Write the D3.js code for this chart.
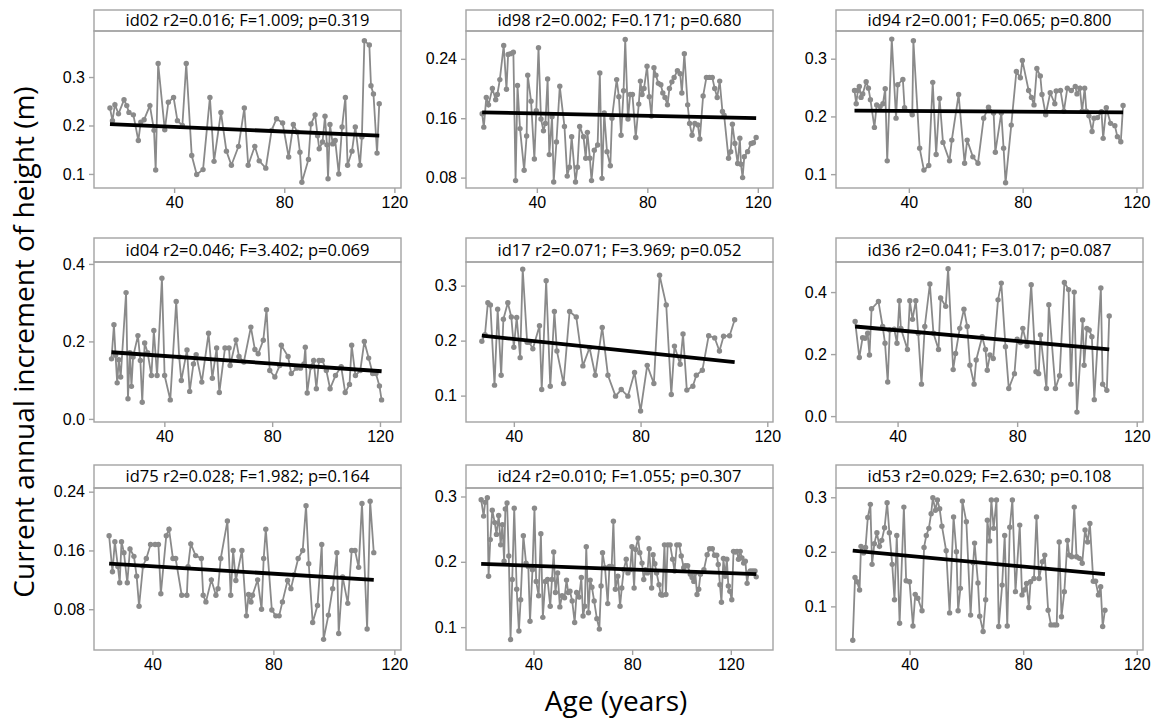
<!DOCTYPE html>
<html>
<head>
<meta charset="utf-8">
<script src="https://cdn.jsdelivr.net/npm/d3@7"></script>
<style>
  body { margin: 0; background: #fff; }
  svg { display: block; font-family: "Open Sans", "Noto Sans", sans-serif; }
</style>
</head>
<body>
<div id="chart"></div>
<script>
// ---- data: age (years) and current annual increment (m) ----
const ageId02 = [16.7,17.6,18.5,19.8,21.8,22.8,23.6,25.2,27.0,27.9,29.1,31.2,32.7,33.3,34.2,36.6,37.9,39.8,41.2,43.0,44.4,46.4,48.2,50.5,53.0,54.5,57.0,59.0,60.8,63.4,65.5,66.9,69.3,70.9,73.3,75.4,77.2,79.4,81.6,83.3,84.8,85.7,86.4,88.8,89.7,91.2,92.1,92.7,93.9,94.8,95.5,95.9,96.6,97.6,98.5,99.8,101.0,102.2,103.0,104.6,105.8,107.5,108.2,109.1,110.9,111.5,112.4,113.7,114.5];
const caiId02 = [0.236,0.21,0.243,0.224,0.253,0.241,0.227,0.222,0.169,0.207,0.212,0.241,0.19,0.108,0.328,0.191,0.248,0.258,0.21,0.2,0.328,0.138,0.099,0.109,0.258,0.126,0.227,0.147,0.118,0.157,0.236,0.118,0.157,0.127,0.112,0.19,0.214,0.205,0.135,0.202,0.186,0.145,0.083,0.13,0.203,0.222,0.179,0.152,0.166,0.219,0.16,0.09,0.202,0.162,0.169,0.1,0.197,0.258,0.118,0.147,0.197,0.118,0.176,0.375,0.366,0.282,0.265,0.143,0.245];

const ageId98 = [20.2,20.8,21.7,22.5,23.9,25.1,25.7,26.6,28.0,29.0,29.6,30.5,31.5,32.3,33.0,33.9,35.4,36.3,36.7,37.9,39.1,39.8,40.6,41.5,42.4,43.1,43.9,44.5,45.5,46.1,47.1,48.3,50.0,51.0,51.8,52.6,54.0,54.7,55.5,56.9,57.7,58.3,59.2,59.8,60.8,62.0,62.8,63.6,64.4,65.4,66.6,67.2,68.9,69.7,70.5,71.4,72.0,73.0,73.8,74.6,75.8,76.9,77.5,78.1,78.8,79.9,80.7,81.5,82.4,83.1,84.0,84.9,85.6,86.4,87.3,88.0,88.9,89.7,90.9,91.9,92.5,93.4,94.6,95.3,96.2,97.2,98.3,99.0,100.2,101.4,102.5,103.5,104.4,105.3,106.2,107.2,107.8,109.4,110.2,110.8,111.7,112.7,113.5,113.9,114.5,115.1,116.3,117.6,118.4,119.4];
const caiId98 = [0.166,0.148,0.188,0.178,0.2,0.185,0.192,0.212,0.258,0.199,0.246,0.247,0.249,0.076,0.204,0.146,0.09,0.136,0.218,0.183,0.105,0.17,0.255,0.159,0.143,0.153,0.213,0.111,0.162,0.074,0.128,0.203,0.149,0.082,0.094,0.135,0.074,0.094,0.149,0.135,0.106,0.141,0.106,0.076,0.117,0.124,0.221,0.079,0.167,0.115,0.096,0.16,0.212,0.189,0.137,0.197,0.266,0.159,0.192,0.192,0.134,0.179,0.21,0.192,0.2,0.23,0.189,0.163,0.228,0.218,0.207,0.205,0.194,0.188,0.178,0.2,0.209,0.215,0.224,0.22,0.194,0.247,0.178,0.153,0.137,0.153,0.151,0.132,0.19,0.215,0.215,0.215,0.2,0.188,0.21,0.169,0.164,0.106,0.115,0.152,0.126,0.099,0.133,0.098,0.08,0.108,0.115,0.126,0.127,0.134];

const ageId94 = [20.9,21.5,22.1,22.6,23.2,23.8,25.0,25.8,26.5,27.9,28.7,29.9,30.9,31.7,32.4,34.0,35.5,36.1,37.9,38.5,41.2,41.6,43.8,45.3,47.0,48.4,49.6,50.8,52.0,54.3,55.1,57.5,59.6,60.5,62.5,64.3,66.3,68.0,69.8,70.4,72.5,73.3,74.0,76.0,77.8,79.2,79.9,82.1,83.1,84.0,85.0,86.2,86.8,88.1,89.7,91.3,91.8,93.3,94.5,95.7,97.1,98.5,99.1,100.1,100.9,101.8,102.4,103.3,104.4,105.1,106.3,107.7,108.3,109.4,110.9,112.4,113.3,114.5,115.3];
const caiId94 = [0.245,0.222,0.245,0.252,0.233,0.239,0.26,0.249,0.229,0.181,0.22,0.217,0.222,0.248,0.123,0.334,0.197,0.255,0.264,0.215,0.203,0.331,0.145,0.107,0.115,0.259,0.134,0.231,0.155,0.123,0.159,0.238,0.119,0.159,0.13,0.119,0.197,0.216,0.206,0.138,0.206,0.145,0.085,0.185,0.278,0.267,0.297,0.245,0.233,0.22,0.283,0.27,0.238,0.203,0.241,0.222,0.244,0.245,0.209,0.249,0.245,0.252,0.239,0.249,0.209,0.249,0.209,0.201,0.174,0.197,0.198,0.208,0.162,0.215,0.188,0.184,0.165,0.156,0.219];

const ageId04 = [20.4,21.3,21.9,22.5,23.1,23.8,25.8,26.5,27.2,27.8,28.4,30.2,31.1,31.8,32.7,33.8,35.2,36.1,37.3,39.1,40.1,42.2,44.4,45.5,46.3,48.4,49.4,50.8,51.8,53.9,56.4,57.8,59.4,60.4,62.5,64.0,64.4,66.6,67.7,69.5,72.1,73.6,74.8,76.7,77.9,79.1,81.0,82.8,83.4,85.9,87.1,89.0,90.5,91.8,92.3,93.0,94.3,95.4,96.4,97.4,98.6,100.1,101.5,103.5,105.6,107.1,108.7,109.5,110.9,112.7,114.2,115.8,117.3,118.5,119.8,120.6];
const caiId04 = [0.155,0.243,0.164,0.093,0.153,0.108,0.326,0.052,0.171,0.084,0.16,0.215,0.151,0.043,0.196,0.171,0.112,0.228,0.112,0.363,0.112,0.049,0.303,0.16,0.099,0.178,0.071,0.142,0.166,0.095,0.221,0.105,0.183,0.068,0.183,0.183,0.138,0.204,0.161,0.147,0.237,0.179,0.168,0.203,0.282,0.125,0.108,0.138,0.19,0.161,0.117,0.131,0.131,0.142,0.185,0.067,0.134,0.151,0.078,0.151,0.151,0.125,0.078,0.112,0.135,0.068,0.089,0.19,0.112,0.125,0.2,0.157,0.117,0.117,0.085,0.049];

const ageId17 = [29.9,30.9,31.8,32.6,33.9,34.9,36.0,36.7,38.1,39.2,40.0,40.9,42.0,42.8,44.2,44.9,46.0,48.1,48.8,50.2,51.5,52.8,53.6,55.7,57.6,59.7,61.8,63.9,65.7,67.9,69.7,72.1,73.9,76.0,78.1,80.0,82.1,84.2,86.0,88.1,89.7,90.7,92.5,93.4,94.6,96.5,97.6,99.5,101.5,103.4,104.9,106.2,108.1,109.7];
const caiId17 = [0.199,0.211,0.269,0.265,0.119,0.257,0.137,0.239,0.269,0.243,0.188,0.242,0.169,0.33,0.197,0.197,0.185,0.227,0.111,0.309,0.117,0.253,0.181,0.122,0.253,0.243,0.154,0.187,0.137,0.224,0.137,0.099,0.111,0.099,0.142,0.072,0.155,0.122,0.319,0.265,0.102,0.19,0.157,0.212,0.11,0.117,0.137,0.146,0.209,0.205,0.181,0.208,0.209,0.238];

const ageId36 = [25.8,27.2,28.3,29.1,30.0,30.6,31.3,33.6,35.0,35.8,36.7,37.4,38.9,39.8,40.6,41.1,43.3,44.1,45.0,46.1,46.9,48.0,49.1,50.8,52.0,53.7,54.4,56.1,56.9,58.6,59.4,60.8,62.2,63.3,64.2,65.6,66.3,68.3,69.4,70.0,70.9,72.0,73.6,74.7,76.1,77.2,79.1,80.0,81.1,81.9,83.3,84.7,86.3,87.2,87.8,89.8,90.6,92.8,94.2,95.8,97.2,98.0,99.1,100.0,101.9,102.4,103.3,104.1,105.0,105.8,108.0,108.6,110.0,110.8];
const caiId36 = [0.305,0.189,0.253,0.251,0.267,0.197,0.346,0.37,0.289,0.235,0.11,0.278,0.28,0.235,0.372,0.283,0.215,0.372,0.312,0.372,0.267,0.103,0.289,0.426,0.267,0.215,0.381,0.354,0.475,0.15,0.202,0.283,0.345,0.289,0.164,0.103,0.181,0.256,0.215,0.148,0.197,0.186,0.375,0.429,0.224,0.089,0.137,0.248,0.237,0.283,0.226,0.424,0.143,0.137,0.262,0.089,0.359,0.089,0.13,0.431,0.408,0.103,0.4,0.013,0.31,0.164,0.283,0.278,0.256,0.053,0.413,0.103,0.083,0.323];

const ageId75 = [25.7,26.8,27.6,28.6,29.2,29.8,30.6,31.7,32.6,33.9,34.8,35.6,36.9,38.0,39.4,40.9,42.0,42.8,44.6,45.5,46.8,47.7,49.7,51.4,51.8,52.7,54.3,56.2,56.8,57.7,59.5,61.0,61.7,62.6,64.8,65.9,66.7,67.6,69.6,71.1,71.8,72.6,73.1,74.8,76.1,76.8,77.5,79.5,80.8,81.9,83.0,84.7,85.8,86.9,88.2,89.7,90.8,91.7,93.0,94.6,96.0,96.6,98.2,99.6,101.0,101.6,102.9,104.6,105.9,107.0,108.2,109.3,111.0,112.0,113.2];
const caiId75 = [0.18,0.131,0.172,0.138,0.116,0.172,0.157,0.116,0.162,0.152,0.125,0.084,0.139,0.149,0.168,0.168,0.168,0.101,0.18,0.189,0.149,0.149,0.099,0.099,0.138,0.169,0.153,0.149,0.099,0.09,0.12,0.099,0.108,0.149,0.2,0.099,0.16,0.119,0.16,0.071,0.1,0.09,0.099,0.12,0.08,0.149,0.189,0.079,0.071,0.071,0.09,0.119,0.108,0.127,0.149,0.16,0.221,0.142,0.062,0.085,0.168,0.039,0.072,0.108,0.157,0.047,0.124,0.088,0.16,0.16,0.137,0.224,0.053,0.227,0.157];

const ageId24 = [18.8,19.8,20.4,21.3,21.8,22.5,23.3,24.3,25.0,25.9,26.7,27.4,28.1,28.6,29.3,30.0,30.7,31.4,32.2,33.2,34.1,34.8,35.9,37.0,37.9,38.6,39.6,40.4,41.1,42.1,43.0,43.8,44.8,45.7,46.8,47.5,48.2,48.9,49.8,50.7,51.6,52.6,53.4,54.1,54.8,55.7,56.7,57.5,58.5,59.4,60.1,60.8,61.4,62.3,63.0,63.7,64.6,65.7,66.7,67.4,68.0,69.0,70.1,70.8,71.7,72.4,73.2,74.2,75.1,75.8,76.6,77.6,78.3,79.2,79.9,80.8,81.4,82.4,83.1,84.0,84.7,85.4,86.2,86.9,87.9,88.5,89.2,89.9,90.9,91.6,92.2,93.1,93.7,94.4,95.4,96.4,97.2,98.1,99.1,99.9,100.9,101.5,102.5,103.6,104.3,105.0,105.6,106.3,107.0,107.7,109.1,110.4,111.4,112.5,113.4,114.3,114.9,115.6,116.2,117.0,117.7,118.4,119.0,119.6,120.4,121.1,121.8,122.5,123.1,123.8,124.5,125.2,125.9,126.6,127.2,127.9,128.9,129.8,130.3];
const caiId24 = [0.295,0.27,0.291,0.298,0.178,0.234,0.279,0.26,0.242,0.271,0.226,0.257,0.201,0.281,0.29,0.209,0.081,0.173,0.282,0.158,0.094,0.142,0.24,0.198,0.193,0.109,0.188,0.282,0.17,0.148,0.243,0.115,0.17,0.173,0.132,0.173,0.215,0.153,0.183,0.131,0.148,0.145,0.172,0.153,0.155,0.14,0.107,0.153,0.146,0.176,0.117,0.132,0.223,0.122,0.172,0.161,0.14,0.113,0.097,0.163,0.214,0.191,0.136,0.193,0.193,0.262,0.158,0.178,0.132,0.16,0.188,0.204,0.183,0.188,0.223,0.16,0.219,0.236,0.214,0.198,0.173,0.188,0.183,0.22,0.16,0.211,0.197,0.183,0.165,0.15,0.149,0.226,0.15,0.226,0.226,0.204,0.186,0.226,0.226,0.209,0.191,0.194,0.194,0.181,0.176,0.17,0.183,0.15,0.158,0.181,0.188,0.211,0.22,0.22,0.21,0.21,0.196,0.165,0.138,0.205,0.178,0.204,0.163,0.155,0.142,0.216,0.215,0.216,0.204,0.216,0.206,0.198,0.201,0.167,0.183,0.186,0.186,0.186,0.177];

const ageId53 = [20.0,20.8,21.5,22.4,22.9,23.8,24.5,25.3,26.2,26.8,27.6,28.5,29.4,30.2,31.2,32.1,32.9,33.9,34.7,35.5,36.5,38.0,38.8,40.0,41.2,42.0,42.9,44.4,45.1,45.9,46.8,47.6,48.2,49.1,49.8,50.6,51.4,52.9,54.1,55.5,56.5,57.1,57.9,58.6,60.0,61.5,62.4,62.9,64.1,64.7,65.9,66.8,67.4,68.2,68.8,69.6,70.6,71.4,72.6,73.5,74.4,75.3,76.2,77.3,78.8,79.6,80.4,81.2,82.0,82.6,83.8,84.7,85.6,86.8,87.6,88.8,89.8,90.9,91.8,92.7,93.5,94.5,95.6,96.2,97.1,98.0,98.8,99.8,100.8,101.8,102.7,103.5,104.7,105.5,106.5,107.3,108.0,108.8];
const caiId53 = [0.038,0.153,0.145,0.13,0.21,0.198,0.208,0.263,0.287,0.177,0.215,0.235,0.21,0.221,0.244,0.29,0.235,0.177,0.112,0.23,0.069,0.282,0.147,0.145,0.064,0.122,0.115,0.092,0.208,0.23,0.243,0.27,0.299,0.276,0.295,0.279,0.247,0.202,0.088,0.264,0.2,0.092,0.133,0.293,0.255,0.084,0.18,0.216,0.143,0.082,0.054,0.112,0.258,0.22,0.295,0.243,0.295,0.063,0.139,0.23,0.064,0.245,0.295,0.127,0.249,0.121,0.13,0.142,0.098,0.145,0.151,0.264,0.151,0.182,0.194,0.093,0.066,0.066,0.066,0.218,0.081,0.127,0.221,0.194,0.191,0.282,0.191,0.188,0.179,0.24,0.218,0.252,0.146,0.146,0.121,0.136,0.063,0.093];

// fitted regression line: value at first and last age
const fitId02 = [0.203, 0.179];
const fitId98 = [0.168, 0.160];
const fitId94 = [0.210, 0.207];
const fitId04 = [0.172, 0.123];
const fitId17 = [0.209, 0.161];
const fitId36 = [0.289, 0.215];
const fitId75 = [0.142, 0.120];
const fitId24 = [0.197, 0.181];
const fitId53 = [0.202, 0.159];

const panelTitles = [
    "id02 r2=0.016; F=1.009; p=0.319",
    "id98 r2=0.002; F=0.171; p=0.680",
    "id94 r2=0.001; F=0.065; p=0.800",
    "id04 r2=0.046; F=3.402; p=0.069",
    "id17 r2=0.071; F=3.969; p=0.052",
    "id36 r2=0.041; F=3.017; p=0.087",
    "id75 r2=0.028; F=1.982; p=0.164",
    "id24 r2=0.010; F=1.055; p=0.307",
    "id53 r2=0.029; F=2.630; p=0.108"
];
const xTickValues = [40, 80, 120];
const yTickValues = [
    [0.1, 0.2, 0.3], [0.08, 0.16, 0.24], [0.1, 0.2, 0.3],
    [0.0, 0.2, 0.4], [0.1, 0.2, 0.3], [0.0, 0.2, 0.4],
    [0.08, 0.16, 0.24], [0.1, 0.2, 0.3], [0.1, 0.2, 0.3]
];

// panel table built from the arrays above, with the axis ranges of each panel
const panels = [
    { age: ageId02, cai: caiId02, fit: fitId02, xDomain: [10.9, 122.4], yDomain: [0.071, 0.395], fmt: ".1f" },
    { age: ageId98, cai: caiId98, fit: fitId98, xDomain: [14.35, 125.5], yDomain: [0.066, 0.2775], fmt: ".2f" },
    { age: ageId94, cai: caiId94, fit: fitId94, xDomain: [14.4, 122.3], yDomain: [0.076, 0.348], fmt: ".1f" },
    { age: ageId04, cai: caiId04, fit: fitId04, xDomain: [13.9, 127.8], yDomain: [-0.008, 0.405], fmt: ".1f" },
    { age: ageId17, cai: caiId17, fit: fitId17, xDomain: [24.9, 121.8], yDomain: [0.052, 0.343], fmt: ".1f" },
    { age: ageId36, cai: caiId36, fit: fitId36, xDomain: [19.4, 122.1], yDomain: [-0.019, 0.497], fmt: ".1f" },
    { age: ageId75, cai: caiId75, fit: fitId75, xDomain: [20.7, 122.2], yDomain: [0.0245, 0.245], fmt: ".2f" },
    { age: ageId24, cai: caiId24, fit: fitId24, xDomain: [12.65, 137.1], yDomain: [0.065, 0.313], fmt: ".1f" },
    { age: ageId53, cai: caiId53, fit: fitId53, xDomain: [14.1, 122.2], yDomain: [0.02, 0.317], fmt: ".1f" }
].map((p, i) => ({ ...p, title: panelTitles[i], yTicks: yTickValues[i] }));

// layout
const width = 1151, height = 722;
const colLeft = [94, 466, 836], colWidth = 307;
const rowBox = [
    { top: 10, plotTop: 31, bottom: 188 },
    { top: 238, plotTop: 262, bottom: 422 },
    { top: 465, plotTop: 488, bottom: 650 }
];
const frameColor = "#a3a3a3";
const seriesColor = "#8a8a8a";

const svg = d3.select("#chart").append("svg")
    .attr("width", width)
    .attr("height", height);

panels.forEach((p, i) => {
    const col = i % 3, row = rowBox[Math.floor(i / 3)];
    const left = colLeft[col], right = left + colWidth;

    const xScale = d3.scaleLinear(p.xDomain, [left, right]);
    const yScale = d3.scaleLinear(p.yDomain, [row.bottom, row.plotTop]);

    const g = svg.append("g");

    // title strip
    g.append("rect")
        .attr("x", left).attr("y", row.top)
        .attr("width", colWidth).attr("height", row.plotTop - row.top)
        .attr("fill", "#fff")
        .attr("stroke", frameColor).attr("stroke-width", 1.4);
    g.append("text")
        .attr("x", (left + right) / 2)
        .attr("y", (row.top + row.plotTop) / 2)
        .attr("dy", "0.36em")
        .attr("text-anchor", "middle")
        .attr("font-size", 16.5)
        .attr("fill", "#000")
        .text(p.title);

    // plot frame
    g.append("rect")
        .attr("x", left).attr("y", row.plotTop)
        .attr("width", colWidth).attr("height", row.bottom - row.plotTop)
        .attr("fill", "none")
        .attr("stroke", frameColor).attr("stroke-width", 1.4);

    // axes
    const xAxis = g.append("g")
        .attr("transform", `translate(0,${row.bottom})`)
        .call(d3.axisBottom(xScale).tickValues(xTickValues).tickSize(5).tickPadding(4));
    const yAxis = g.append("g")
        .attr("transform", `translate(${left},0)`)
        .call(d3.axisLeft(yScale).tickValues(p.yTicks).tickFormat(d3.format(p.fmt)).tickSize(5).tickPadding(4));
    [xAxis, yAxis].forEach(a => {
        a.select(".domain").remove();
        a.selectAll("line").attr("stroke", frameColor).attr("stroke-width", 1.4);
        a.selectAll("text").attr("font-size", 16).attr("font-family", null).attr("fill", "#000");
    });

    // series line + markers
    const pts = d3.zip(p.age, p.cai);
    g.append("path")
        .datum(pts)
        .attr("fill", "none")
        .attr("stroke", seriesColor)
        .attr("stroke-width", 1.8)
        .attr("d", d3.line()
            .x(d => xScale(d[0]))
            .y(d => yScale(d[1]))
        );
    g.selectAll("circle")
        .data(pts)
        .join("circle")
        .attr("cx", d => xScale(d[0]))
        .attr("cy", d => yScale(d[1]))
        .attr("r", 2.7)
        .attr("fill", seriesColor);

    // regression line
    g.append("line")
        .attr("x1", xScale(p.age[0]))
        .attr("y1", yScale(p.fit[0]))
        .attr("x2", xScale(p.age[p.age.length - 1]))
        .attr("y2", yScale(p.fit[1]))
        .attr("stroke", "#000")
        .attr("stroke-width", 3.8);
});

// shared axis titles
svg.append("text")
    .attr("transform", "translate(34,342) rotate(-90)")
    .attr("text-anchor", "middle")
    .attr("font-size", 28)
    .attr("fill", "#000")
    .text("Current annual increment of height (m)");

svg.append("text")
    .attr("x", 616)
    .attr("y", 711)
    .attr("text-anchor", "middle")
    .attr("font-size", 28)
    .attr("fill", "#000")
    .text("Age (years)");
</script>
</body>
</html>
